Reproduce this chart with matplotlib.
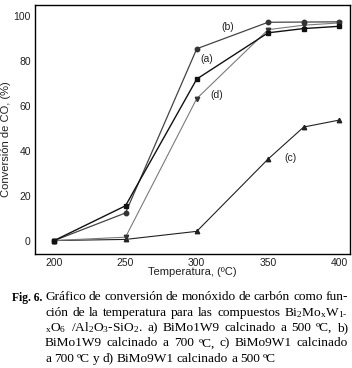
import matplotlib.pyplot as plt

# temperatures (C) and CO conversion (%)
temp = [200, 250, 300, 350, 375, 400]
conv_a = [0, 15.5, 72, 92.6, 94.5, 95.5]
conv_b = [0, 12.3, 85.5, 97.3, 97.4, 97.5]
conv_c = [0, 0.5, 4.1, 36.3, 50.6, 53.7]
conv_d = [0, 1.5, 63.3, 94.0, 96.0, 97.0]
x_ticks = [200, 250, 300, 350, 400]
y_ticks = [0, 20, 40, 60, 80, 100]

serif = 'Liberation Serif'
sans = 'Liberation Sans'
plt.rcParams['mathtext.fontset'] = 'custom'
plt.rcParams['mathtext.rm'] = serif
plt.rcParams['mathtext.it'] = serif

W, H = 352, 368
fig = plt.figure(figsize=(W/100, H/100), dpi=100)
ax = fig.add_axes([35/W, 1-254/H, 315/W, 249/H])

ax.plot(temp, conv_c, color='#222222', lw=0.8, marker='^', ms=3.2)
ax.plot(temp, conv_d, color='#7a7a7a', lw=0.8, marker='v', ms=3.2,
        mfc='#333333', mec='#333333')
ax.plot(temp, conv_b, color='#444444', lw=0.9, marker='o', ms=3.2,
        mfc='#333333', mec='#333333')
ax.plot(temp, conv_a, color='#111111', lw=1.0, marker='s', ms=3.2)

# curve labels
for lbl, x, y in [('(b)', 322, 95), ('(a)', 307, 81), ('(d)', 314, 65), ('(c)', 366, 37)]:
    ax.text(x, y, lbl, fontsize=7.5, family=sans, ha='center', va='center', color='#222222')

ax.set_xlim(186.5, 407.5)
ax.set_ylim(-6, 105)
ax.set_xticks(x_ticks)
ax.set_yticks(y_ticks)
ax.tick_params(length=0, labelsize=7.5, pad=3)
for lab in ax.get_xticklabels() + ax.get_yticklabels():
    lab.set_family(sans)
    lab.set_color('#222222')
ax.set_xlabel('Temperatura, (ºC)', family=sans, fontsize=8, color='#222222')
ax.set_ylabel('Conversión de CO, (%)', family=sans, fontsize=8, color='#222222')
ax.xaxis.set_label_coords(0.5, -0.052)
ax.yaxis.set_label_coords(-0.075, 0.46)
for s in ax.spines.values():
    s.set_linewidth(1.0)

# figure caption, justified like the printed original
fig.text(12/W, 1-300.5/H, 'Fig. 6.', family=serif, fontsize=8.4, weight='bold', va='baseline')
lines = [
    'Gráfico de conversión de monóxido de carbón como fun-',
    'ción de la temperatura para las compuestos Bi$_2$Mo$_x$W$_{1\\text{-}}$',
    '$_x$O$_6$ /Al$_2$O$_3$-SiO$_2$. a) BiMo1W9 calcinado a 500 ºC, b)',
    'BiMo1W9 calcinado a 700 ºC, c) BiMo9W1 calcinado',
    'a 700 ºC y d) BiMo9W1 calcinado a 500 ºC',
]
x0, x1 = 45, 348
renderer = fig.canvas.get_renderer()
for i, line in enumerate(lines):
    y = 1-(300.5 + 15.3*i)/H
    words = line.split(' ')
    texts = [fig.text(0, y, w, family=serif, fontsize=9.6, va='baseline') for w in words]
    widths = [t.get_window_extent(renderer).width for t in texts]
    if i < len(lines)-1:
        gap = (x1 - x0 - sum(widths)) / (len(words)-1)
    else:
        gap = 3.0
    x = x0
    for t, w in zip(texts, widths):
        t.set_x(x/W)
        x += w + gap

fig.savefig('out.png', dpi=100)
